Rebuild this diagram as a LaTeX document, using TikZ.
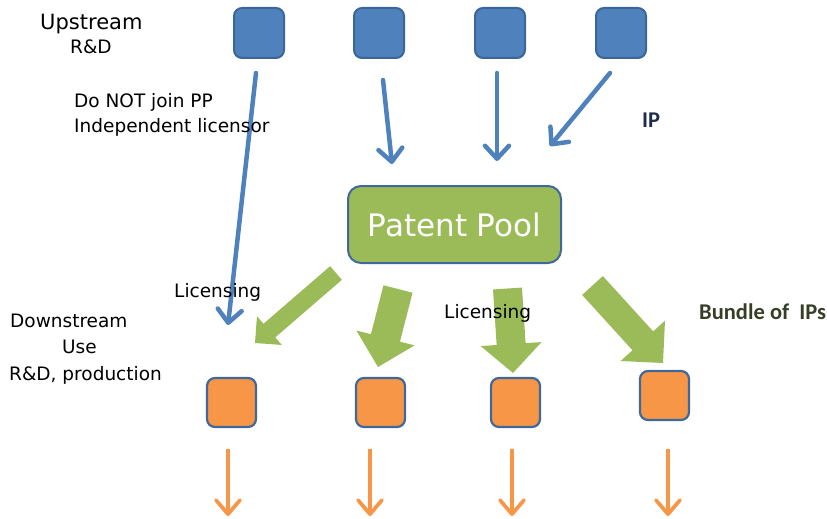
\documentclass[tikz,border=0pt]{standalone}
\usepackage{fontspec}
\setmainfont{DejaVu Sans}
\newfontfamily\calibfont{Carlito}
\usetikzlibrary{arrows.meta,calc}

\definecolor{upblue}{HTML}{4F81BD}
\definecolor{upedge}{HTML}{3B6699}
\definecolor{poolgreen}{HTML}{9BBB59}
\definecolor{downorange}{HTML}{F79646}
\definecolor{boxedge}{HTML}{41689A}
\definecolor{ipnavy}{HTML}{1F2D4A}
\definecolor{bundleink}{HTML}{353F26}

% block arrow: tail centre, tip, shaft width, head width, head length (all in pt)
\newcommand{\blockarrow}[5]{%
  \fill[poolgreen]
    ($(#1)!#3*0.5pt!90:(#2)$) --
    ($($(#2)!#5pt!(#1)$)!#3*0.5pt!90:(#2)$) --
    ($($(#2)!#5pt!(#1)$)!#4*0.5pt!90:(#2)$) --
    (#2) --
    ($($(#2)!#5pt!(#1)$)!#4*0.5pt!-90:(#2)$) --
    ($($(#2)!#5pt!(#1)$)!#3*0.5pt!-90:(#2)$) --
    ($(#1)!#3*0.5pt!-90:(#2)$) -- cycle;}

\begin{document}
\begin{tikzpicture}[x=1pt,y=-1pt,
  upbox/.style={draw=upedge, fill=upblue, line width=2pt, rounded corners=8pt,
    minimum size=50pt, inner sep=0pt},
  downbox/.style={draw=boxedge, fill=downorange, line width=2.2pt, rounded corners=8pt,
    minimum size=49pt, inner sep=0pt},
  poolbox/.style={draw=boxedge, fill=poolgreen, line width=2pt, rounded corners=13pt,
    minimum width=213pt, minimum height=77pt, inner sep=0pt,
    text=white, font=\fontsize{31}{36}\selectfont},
  label/.style={anchor=base west, inner sep=0pt, font=\fontsize{18.5}{22}\selectfont},
  biglabel/.style={anchor=base west, inner sep=0pt, font=\fontsize{21}{25}\selectfont},
  boldlabel/.style={anchor=base west, inner sep=0pt, font=\calibfont\bfseries\fontsize{22.5}{27}\selectfont},
  iparrow/.style={draw=upblue, line width=4.5pt, line cap=round,
    -{Straight Barb[length=13pt,width=24pt,round]}},
  outarrow/.style={draw=downorange, line width=3.8pt,
    -{Straight Barb[length=14pt,width=24pt,round]}}]
\useasboundingbox (0,0) rectangle (827,519);

% upstream holders
\node[upbox] (u1) at (259,33) {};
\node[upbox] (u2) at (379,33) {};
\node[upbox] (u3) at (500,33) {};
\node[upbox] (u4) at (621,33) {};

% the pool
\node[poolbox] (pool) at (454.5,224.5) {Patent Pool};

% downstream users
\node[downbox] (d1) at (231.5,402.5) {};
\node[downbox] (d2) at (380.5,402.5) {};
\node[downbox] (d3) at (515.5,402.5) {};
\node[downbox] (d4) at (664.5,395.5) {};

% arrow end points
\coordinate (s1) at (256,73);   \coordinate (e1) at (228,325);
\coordinate (s2) at (383,80);   \coordinate (e2) at (392,164);
\coordinate (s3) at (497,73);   \coordinate (e3) at (497,161);
\coordinate (s4) at (610,73);   \coordinate (e4) at (550,146);

\coordinate (ga) at (336,273);   \coordinate (ta) at (255,343);
\coordinate (gb) at (398,289);   \coordinate (tb) at (378,367);
\coordinate (gc) at (507.5,288.5); \coordinate (tc) at (513,373);
\coordinate (gd) at (592.5,285.5); \coordinate (td) at (663,363);

\coordinate (o1) at (228,449); \coordinate (p1) at (228,516);
\coordinate (o2) at (370,449); \coordinate (p2) at (370,516);
\coordinate (o3) at (512,449); \coordinate (p3) at (512,516);
\coordinate (o4) at (668,449); \coordinate (p4) at (668,516);

% IP flows into the pool (and one bypass)
\draw[iparrow] (s1) -- (e1);
\draw[iparrow] (s2) -- (e2);
\draw[iparrow] (s3) -- (e3);
\draw[iparrow] (s4) -- (e4);

% licensing out of the pool
\blockarrow{ga}{ta}{18}{38}{19}
\blockarrow{gb}{tb}{30}{60}{30}
\blockarrow{gc}{tc}{29}{61}{29}
\blockarrow{gd}{td}{28}{60}{30}

% downstream output
\draw[outarrow] (o1) -- (p1);
\draw[outarrow] (o2) -- (p2);
\draw[outarrow] (o3) -- (p3);
\draw[outarrow] (o4) -- (p4);

% labels
\node[biglabel] (tup) at (40,30) {Upstream};
\node[label] (trd) at (70,53) {R\&D};
\node[label] (tno) at (74,107) {Do NOT join PP};
\node[label] (tind) at (74,132) {Independent licensor};
\node[label] (tdown) at (10,327) {Downstream};
\node[label] (tuse) at (62,353) {Use};
\node[label] (tprod) at (9,380) {R\&D, production};
\node[label] (tlic1) at (174,297) {Licensing};
\node[label] (tlic2) at (444,318) {Licensing};
\node[boldlabel, text=ipnavy] (tip) at (642,127) {IP};
\node[boldlabel, text=bundleink] (tbun) at (699,319) {Bundle of~ IPs};
\end{tikzpicture}
\end{document}
